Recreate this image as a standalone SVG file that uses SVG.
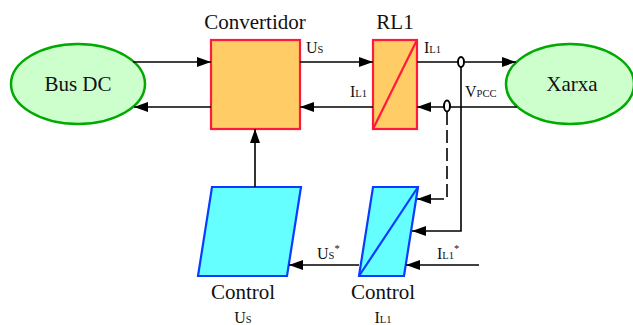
<svg xmlns="http://www.w3.org/2000/svg" width="633" height="325" viewBox="0 0 633 325">
<defs>
<marker id="arr" markerUnits="userSpaceOnUse" markerWidth="15" markerHeight="11" refX="14" refY="5" orient="auto">
<path d="M0,0 L14,5 L0,10 Z" fill="#000"/>
</marker>
<style>
text{font-family:'Liberation Serif','Times New Roman',serif;fill:#111}
.big{font-size:21px}
.lab{font-size:16px}
.sub{font-size:10.5px}
.ell{fill:#CCFFCC;stroke:#00AA00;stroke-width:2.5}
.box{fill:#FFCC66;stroke:#FF1A3A;stroke-width:2.2}
.ctl{fill:#66FFFF;stroke:#0A3CFF;stroke-width:2.2}
.c{fill:none;stroke:#000;stroke-width:1.6}
.s{fill:#fff;stroke:#000;stroke-width:2}
</style>
</defs>
<rect width="633" height="325" fill="#fff"/>
<g id="busdc">
<ellipse class="ell" cx="78" cy="84" rx="67" ry="40"/>
<text class="big" x="78" y="91" text-anchor="middle">Bus DC</text>
</g>
<g id="convertidor">
<rect class="box" x="211" y="40" width="89" height="89"/>
<text class="big" x="255" y="29" text-anchor="middle">Convertidor</text>
</g>
<g id="rl1">
<rect class="box" x="373" y="40" width="44" height="89"/>
<line x1="373" y1="129" x2="417" y2="40" stroke="#FF1A3A" stroke-width="2.2"/>
<text class="big" x="395" y="29" text-anchor="middle">RL1</text>
</g>
<g id="xarxa">
<ellipse class="ell" cx="570" cy="84" rx="64" ry="40"/>
<text class="big" x="572" y="91" text-anchor="middle">Xarxa</text>
</g>
<g id="controlUs">
<polygon class="ctl" points="212,187 301,187 287,276 198,276"/>
<text class="big" x="243" y="299" text-anchor="middle">Control</text>
<text class="lab" x="243" y="323" text-anchor="middle">U<tspan class="sub">S</tspan></text>
</g>
<g id="controlIL1">
<polygon class="ctl" points="373,187 418,187 404,276 359,276"/>
<line x1="359" y1="276" x2="418" y2="187" stroke="#0A3CFF" stroke-width="2.2"/>
<text class="big" x="383" y="299" text-anchor="middle">Control</text>
<text class="lab" x="383" y="323" text-anchor="middle">I<tspan class="sub">L1</tspan></text>
</g>
<g id="connectors">
<line class="c" x1="133" y1="62" x2="211" y2="62" marker-end="url(#arr)"/>
<line class="c" x1="211" y1="107" x2="134" y2="107" marker-end="url(#arr)"/>
<line class="c" x1="300" y1="62" x2="373" y2="62" marker-end="url(#arr)"/>
<line class="c" x1="373" y1="107" x2="300" y2="107" marker-end="url(#arr)"/>
<line class="c" x1="417" y1="62" x2="516" y2="62" marker-end="url(#arr)"/>
<line class="c" x1="517" y1="107" x2="417" y2="107" marker-end="url(#arr)"/>
<line class="c" x1="255" y1="187" x2="255" y2="129" marker-end="url(#arr)"/>
<path class="c" d="M461,67 V231 H412" marker-end="url(#arr)"/>
<path class="c" d="M447,112 V199 H417" stroke-dasharray="13 5" marker-end="url(#arr)"/>
<line class="c" x1="479" y1="265" x2="406" y2="265" marker-end="url(#arr)"/>
<line class="c" x1="359" y1="265" x2="289" y2="265" marker-end="url(#arr)"/>
<ellipse class="s" cx="461" cy="62" rx="3" ry="5"/>
<ellipse class="s" cx="447" cy="106" rx="3" ry="5.5"/>
<text class="lab" x="306" y="53">U<tspan class="sub">S</tspan></text>
<text class="lab" x="424" y="53">I<tspan class="sub">L1</tspan></text>
<text class="lab" x="350" y="97">I<tspan class="sub">L1</tspan></text>
<text class="lab" x="465" y="97">V<tspan class="sub">PCC</tspan></text>
<text class="lab" x="317" y="259">U<tspan class="sub">S</tspan><tspan class="sub" dy="-7">*</tspan></text>
<text class="lab" x="437" y="259">I<tspan class="sub">L1</tspan><tspan class="sub" dy="-7">*</tspan></text>
</g>
</svg>
